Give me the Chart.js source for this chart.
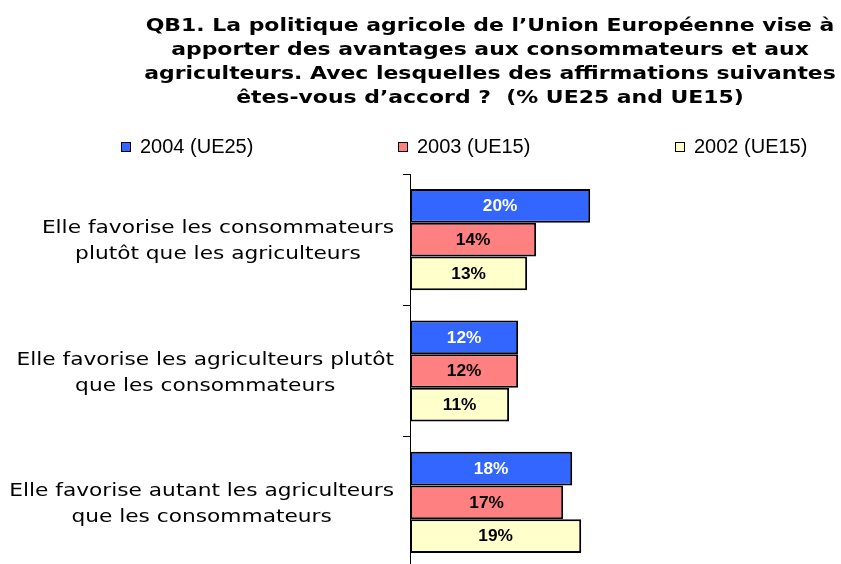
<!DOCTYPE html>
<html>
<head>
<meta charset="utf-8">
<script src="https://cdn.jsdelivr.net/npm/chart.js@4"></script>
<style>
    body { margin: 0; overflow: hidden; background: #fff; }
    #cadre { position: relative; width: 841px; height: 564px; overflow: hidden; }
    #graphique { position: absolute; left: 0; top: 0; }
    #titre {
        position: absolute; left: 140px; top: 13px; width: 700px;
        font: bold 17px "DejaVu Sans", sans-serif; line-height: 24px;
        text-align: center; white-space: pre; color: #000;
        transform: scaleX(1.29); transform-origin: 50% 0;
    }
    #legende { position: absolute; left: 121px; top: 135px; height: 22px; white-space: nowrap; }
    .item { display: inline-block; width: 277px; font: 20px "Liberation Sans", Arial, sans-serif; line-height: 22px; }
    .carre { display: inline-block; width: 8px; height: 8px; border: 1px solid #000; margin-right: 9px; vertical-align: 1px; }
</style>
</head>
<body>
<div id="cadre">
    <canvas id="graphique" width="841" height="568"></canvas>
    <div id="titre"></div>
    <div id="legende"></div>
</div>
<script>
// --- Données ---
const titreLignes = [
    "QB1. La politique agricole de l’Union Européenne vise à",
    "apporter des avantages aux consommateurs et aux",
    "agriculteurs. Avec lesquelles des affirmations suivantes",
    "êtes-vous d’accord ?  (% UE25 and UE15)"
];
const categories = [
    ["Elle favorise les consommateurs", "plutôt que les agriculteurs"],
    ["Elle favorise les agriculteurs plutôt", "que les consommateurs"],
    ["Elle favorise autant les agriculteurs", "que les consommateurs"]
];
const series = ["2004 (UE25)", "2003 (UE15)", "2002 (UE15)"];
const valeurs2004 = [20, 12, 18];
const valeurs2003 = [14, 12, 17];
const valeurs2002 = [13, 11, 19];
const couleurs = ["#3366FF", "#FF8080", "#FFFFCC"];
const couleursTexte = ["#fff", "#000", "#000"];

// --- Titre et légende ---
document.getElementById("titre").textContent = titreLignes.join("\n");
const legende = document.getElementById("legende");
series.forEach((nom, i) => {
    const item = document.createElement("span");
    item.className = "item";
    const carre = document.createElement("span");
    carre.className = "carre";
    carre.style.background = couleurs[i];
    item.appendChild(carre);
    item.appendChild(document.createTextNode(nom));
    legende.appendChild(item);
});

// --- Étiquettes des catégories (blocs alignés à droite, lignes centrées) ---
const etiquettesCategories = {
    id: "etiquettesCategories",
    afterDraw(chart) {
        const ctx = chart.ctx;
        const axeY = chart.scales.y;
        const sx = 1.24;
        const droite = axeY.right - 16;
        ctx.save();
        ctx.font = "17.5px 'DejaVu Sans'";
        ctx.fillStyle = "#000";
        ctx.textAlign = "center";
        ctx.textBaseline = "alphabetic";
        categories.forEach((lignes, i) => {
            const yc = axeY.getPixelForValue(i);
            const largeur = Math.max(...lignes.map(l => ctx.measureText(l).width)) * sx;
            const xc = droite - largeur / 2;
            lignes.forEach((ligne, k) => {
                const y = yc + (k - (lignes.length - 1) / 2) * 26 + 6.5;
                ctx.save();
                ctx.translate(xc, y);
                ctx.scale(sx, 1);
                ctx.fillText(ligne, 0, 0);
                ctx.restore();
            });
        });
        ctx.restore();
    }
};

// --- Valeurs dans les barres ---
const valeursBarres = {
    id: "valeursBarres",
    afterDatasetsDraw(chart) {
        const ctx = chart.ctx;
        ctx.save();
        ctx.font = "bold 16px 'Liberation Sans'";
        ctx.textAlign = "center";
        ctx.textBaseline = "middle";
        chart.data.datasets.forEach((ds, d) => {
            chart.getDatasetMeta(d).data.forEach((barre, i) => {
                ctx.fillStyle = couleursTexte[d];
                ctx.save();
                ctx.translate((barre.x + barre.base) / 2, barre.y + 1);
                ctx.scale(1.08, 1);
                ctx.fillText(ds.data[i] + "%", 0, 0);
                ctx.restore();
            });
        });
        ctx.restore();
    }
};

new Chart(document.getElementById("graphique"), {
    type: "bar",
    data: {
        labels: categories,
        datasets: [
            { label: series[0], data: valeurs2004, backgroundColor: couleurs[0] },
            { label: series[1], data: valeurs2003, backgroundColor: couleurs[1] },
            { label: series[2], data: valeurs2002, backgroundColor: couleurs[2] }
        ].map(ds => Object.assign(ds, {
            borderColor: "#000",
            borderWidth: 2,
            borderSkipped: false,
            categoryPercentage: 0.77,
            barPercentage: 1.0
        }))
    },
    options: {
        indexAxis: "y",
        responsive: false,
        animation: false,
        layout: { padding: { top: 174, left: 0, right: 3, bottom: 0 } },
        plugins: {
            legend: { display: false },
            title: { display: false },
            tooltip: { enabled: false }
        },
        scales: {
            x: { display: false, min: 0, max: 47.5 },
            y: {
                afterFit(scale) { scale.width = 410; },
                ticks: { display: false },
                grid: {
                    offset: true,
                    drawOnChartArea: false,
                    drawTicks: true,
                    tickLength: 7,
                    color: "#000",
                    lineWidth: 1
                },
                border: { display: true, color: "#000", width: 1 }
            }
        }
    },
    plugins: [etiquettesCategories, valeursBarres]
});
</script>
</body>
</html>
